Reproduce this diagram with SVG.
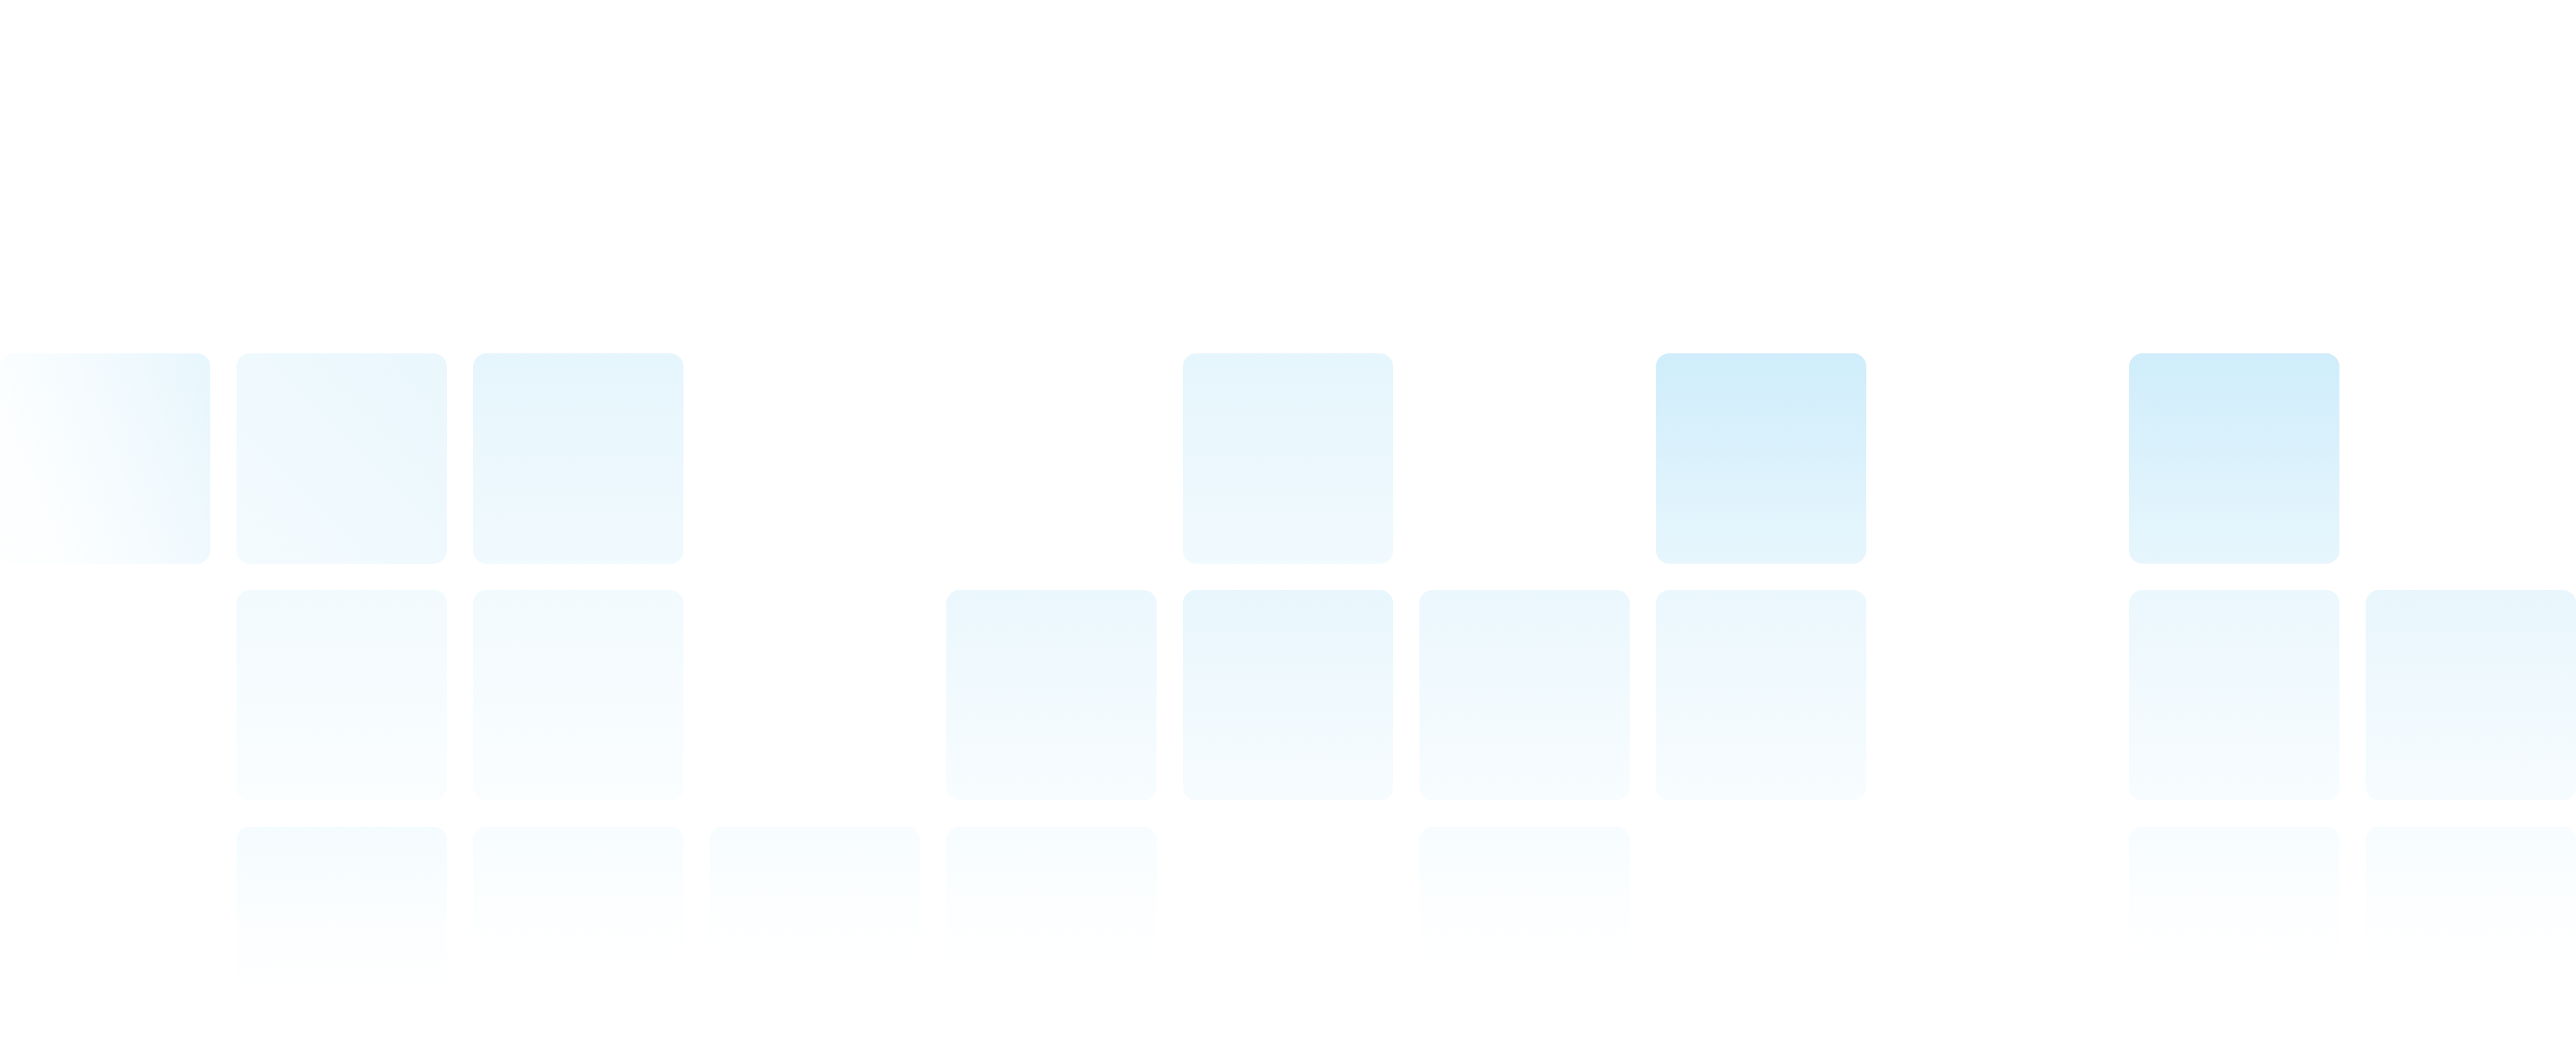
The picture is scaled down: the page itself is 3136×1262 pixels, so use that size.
<svg xmlns="http://www.w3.org/2000/svg" width="3136" height="1262" viewBox="0 0 3136 1262">
<defs>
<style>
.tile{rx:16px;ry:16px}
</style>
<linearGradient id="gStrong" x1="0" y1="0" x2="0" y2="1">
<stop offset="0" stop-color="#0ea5e9" stop-opacity="0.20"/>
<stop offset="1" stop-color="#0ea5e9" stop-opacity="0.10"/>
</linearGradient>
<linearGradient id="gMid" x1="0" y1="0" x2="0" y2="1">
<stop offset="0" stop-color="#0ea5e9" stop-opacity="0.105"/>
<stop offset="1" stop-color="#0ea5e9" stop-opacity="0.06"/>
</linearGradient>
<linearGradient id="gMidDiag" x1="1" y1="0" x2="0" y2="1">
<stop offset="0" stop-color="#0ea5e9" stop-opacity="0.09"/>
<stop offset="1" stop-color="#0ea5e9" stop-opacity="0.045"/>
</linearGradient>
<linearGradient id="gEdge" x1="1" y1="0" x2="0" y2="0.4">
<stop offset="0" stop-color="#0ea5e9" stop-opacity="0.10"/>
<stop offset="0.6" stop-color="#0ea5e9" stop-opacity="0.04"/>
<stop offset="1" stop-color="#0ea5e9" stop-opacity="0.008"/>
</linearGradient>
<linearGradient id="gRow2a" x1="0" y1="0" x2="0" y2="1">
<stop offset="0" stop-color="#0ea5e9" stop-opacity="0.055"/>
<stop offset="1" stop-color="#0ea5e9" stop-opacity="0.018"/>
</linearGradient>
<linearGradient id="gRow2b" x1="0" y1="0" x2="0" y2="1">
<stop offset="0" stop-color="#0ea5e9" stop-opacity="0.085"/>
<stop offset="1" stop-color="#0ea5e9" stop-opacity="0.03"/>
</linearGradient>
<linearGradient id="gRow2c" x1="0" y1="0" x2="0" y2="1">
<stop offset="0" stop-color="#0ea5e9" stop-opacity="0.095"/>
<stop offset="1" stop-color="#0ea5e9" stop-opacity="0.035"/>
</linearGradient>
<linearGradient id="gRow3" x1="0" y1="0" x2="0" y2="1">
<stop offset="0" stop-color="#0ea5e9" stop-opacity="0.035"/>
<stop offset="0.4" stop-color="#0ea5e9" stop-opacity="0.01"/>
<stop offset="0.75" stop-color="#0ea5e9" stop-opacity="0"/>
</linearGradient>
<linearGradient id="gRow3s" x1="0" y1="0" x2="0" y2="1">
<stop offset="0" stop-color="#0ea5e9" stop-opacity="0.045"/>
<stop offset="0.45" stop-color="#0ea5e9" stop-opacity="0.015"/>
<stop offset="0.85" stop-color="#0ea5e9" stop-opacity="0"/>
</linearGradient>
</defs>
<rect width="3136" height="1262" fill="#ffffff"/>
<g id="row1">
<g id="tile-r1-c0"><rect class="tile" x="0" y="430" width="256" height="256" fill="url(#gEdge)"/></g>
<g id="tile-r1-c1"><rect class="tile" x="288" y="430" width="256" height="256" fill="url(#gMidDiag)"/></g>
<g id="tile-r1-c2"><rect class="tile" x="576" y="430" width="256" height="256" fill="url(#gMid)"/></g>
<g id="tile-r1-c5"><rect class="tile" x="1440" y="430" width="256" height="256" fill="url(#gMid)"/></g>
<g id="tile-r1-c7"><rect class="tile" x="2016" y="430" width="256" height="256" fill="url(#gStrong)"/></g>
<g id="tile-r1-c9"><rect class="tile" x="2592" y="430" width="256" height="256" fill="url(#gStrong)"/></g>
</g>
<g id="row2">
<g id="tile-r2-c1"><rect class="tile" x="288" y="718" width="256" height="256" fill="url(#gRow2a)"/></g>
<g id="tile-r2-c2"><rect class="tile" x="576" y="718" width="256" height="256" fill="url(#gRow2a)"/></g>
<g id="tile-r2-c4"><rect class="tile" x="1152" y="718" width="256" height="256" fill="url(#gRow2b)"/></g>
<g id="tile-r2-c5"><rect class="tile" x="1440" y="718" width="256" height="256" fill="url(#gRow2c)"/></g>
<g id="tile-r2-c6"><rect class="tile" x="1728" y="718" width="256" height="256" fill="url(#gRow2b)"/></g>
<g id="tile-r2-c7"><rect class="tile" x="2016" y="718" width="256" height="256" fill="url(#gRow2b)"/></g>
<g id="tile-r2-c9"><rect class="tile" x="2592" y="718" width="256" height="256" fill="url(#gRow2b)"/></g>
<g id="tile-r2-c10"><rect class="tile" x="2880" y="718" width="256" height="256" fill="url(#gRow2c)"/></g>
</g>
<g id="row3">
<g id="tile-r3-c1"><rect class="tile" x="288" y="1006" width="256" height="256" fill="url(#gRow3s)"/></g>
<g id="tile-r3-c2"><rect class="tile" x="576" y="1006" width="256" height="256" fill="url(#gRow3)"/></g>
<g id="tile-r3-c3"><rect class="tile" x="864" y="1006" width="256" height="256" fill="url(#gRow3)"/></g>
<g id="tile-r3-c4"><rect class="tile" x="1152" y="1006" width="256" height="256" fill="url(#gRow3)"/></g>
<g id="tile-r3-c6"><rect class="tile" x="1728" y="1006" width="256" height="256" fill="url(#gRow3)"/></g>
<g id="tile-r3-c9"><rect class="tile" x="2592" y="1006" width="256" height="256" fill="url(#gRow3)"/></g>
<g id="tile-r3-c10"><rect class="tile" x="2880" y="1006" width="256" height="256" fill="url(#gRow3)"/></g>
</g>
<g id="connectors"/>
</svg>
